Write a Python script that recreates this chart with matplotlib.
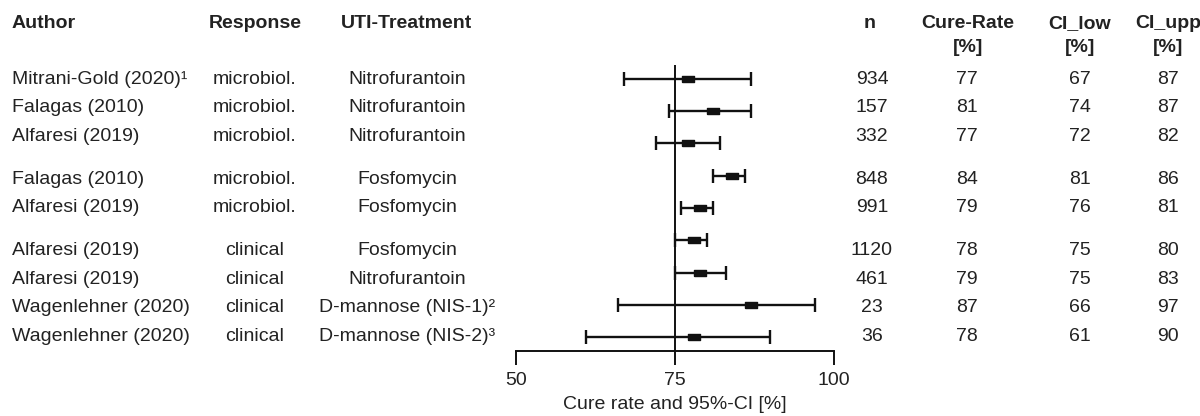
import numpy as np
import matplotlib.pyplot as plt

plt.rcParams['font.family'] = ['Liberation Sans', 'DejaVu Sans']

authors = ["Mitrani-Gold (2020)¹", "Falagas (2010)", "Alfaresi (2019)",
           "Falagas (2010)", "Alfaresi (2019)",
           "Alfaresi (2019)", "Alfaresi (2019)", "Wagenlehner (2020)", "Wagenlehner (2020)"]
response = ["microbiol."] * 5 + ["clinical"] * 4
treatment = ["Nitrofurantoin", "Nitrofurantoin", "Nitrofurantoin",
             "Fosfomycin", "Fosfomycin",
             "Fosfomycin", "Nitrofurantoin", "D-mannose (NIS-1)²", "D-mannose (NIS-2)³"]
group = [0, 0, 0, 1, 1, 2, 2, 2, 2]
n = [934, 157, 332, 848, 991, 1120, 461, 23, 36]
cure = [77, 81, 77, 84, 79, 78, 79, 87, 78]
ci_low = [67, 74, 72, 81, 76, 75, 75, 66, 61]
ci_upp = [87, 87, 82, 86, 81, 80, 83, 97, 90]

W, H = 1200, 416
fs = 14
fig = plt.figure(figsize=(12, 4.16), dpi=100)
txt_col = "#222222"


def fx(px):
    return px / W


def fy(py):
    return 1 - py / H


# forest plot axis
ax = fig.add_axes([fx(516), fy(351), fx(834) - fx(516), fy(65) - fy(351)])
rows = np.arange(len(cure))
cure_a = np.array(cure)
err = [cure_a - np.array(ci_low), np.array(ci_upp) - cure_a]
ax.errorbar(cure, rows, xerr=err, fmt='none', ecolor='#111111',
            elinewidth=1.7, capsize=5, capthick=1.7, zorder=3)
rect = [(-1, -0.55), (1, -0.55), (1, 0.55), (-1, 0.55), (-1, -0.55)]
ax.plot(cure, rows, ls='none', marker=rect, markersize=9,
        color='#111111', zorder=4)
ax.axvline(75, color='#111111', lw=1.4, zorder=2)

ax.set_xlim(50, 100)
ax.set_ylim(8.43, -0.43)
ax.set_xticks([50, 75, 100])
ax.set_yticks([])
for s in ['left', 'right', 'top']:
    ax.spines[s].set_visible(False)
ax.spines['bottom'].set_linewidth(1.4)
ax.spines['bottom'].set_color('#111111')
ax.tick_params(axis='x', direction='out', length=10, width=1.4,
               color='#111111', labelsize=fs, labelcolor=txt_col, pad=5)
ax.set_xlabel("Cure rate and 95%-CI [%]", fontsize=fs, color=txt_col, labelpad=5)
ax.patch.set_alpha(0)

# headers
hy = 24
fig.text(fx(12), fy(hy), "Author", fontsize=fs, fontweight='bold', color=txt_col, va='center')
fig.text(fx(255), fy(hy), "Response", fontsize=fs, fontweight='bold', color=txt_col,
         va='center', ha='center')
fig.text(fx(407), fy(hy), "UTI-Treatment", fontsize=fs, fontweight='bold', color=txt_col,
         va='center', ha='center')
fig.text(fx(870), fy(hy), "n", fontsize=fs, fontweight='bold', color=txt_col,
         va='center', ha='center')
for xc, lab in [(968, "Cure-Rate"), (1080, "CI_low"), (1168, "CI_upp")]:
    fig.text(fx(xc), fy(hy), lab, fontsize=fs, fontweight='bold', color=txt_col,
             va='center', ha='center')
    fig.text(fx(xc), fy(48), "[%]", fontsize=fs, fontweight='bold', color=txt_col,
             va='center', ha='center')

# table rows
for i in range(len(authors)):
    y = fy(79 + 28.7 * i + 14 * group[i])
    fig.text(fx(12), y, authors[i], fontsize=fs, color=txt_col, va='center')
    fig.text(fx(255), y, response[i], fontsize=fs, color=txt_col, va='center', ha='center')
    fig.text(fx(407), y, treatment[i], fontsize=fs, color=txt_col, va='center', ha='center')
    fig.text(fx(872), y, str(n[i]), fontsize=fs, color=txt_col, va='center', ha='center')
    fig.text(fx(967), y, str(cure[i]), fontsize=fs, color=txt_col, va='center', ha='center')
    fig.text(fx(1080), y, str(ci_low[i]), fontsize=fs, color=txt_col, va='center', ha='center')
    fig.text(fx(1168), y, str(ci_upp[i]), fontsize=fs, color=txt_col, va='center', ha='center')

fig.savefig('out.png', dpi=100)
